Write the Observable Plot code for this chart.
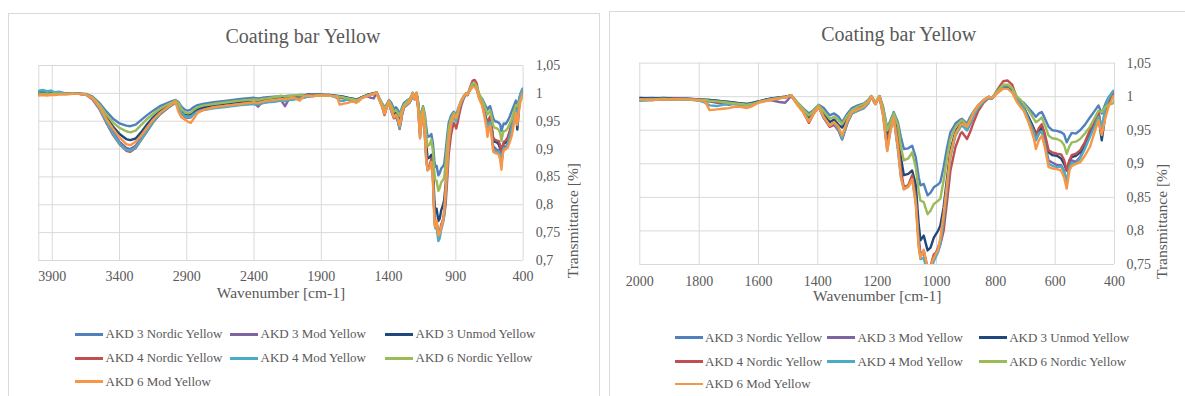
<!DOCTYPE html>
<html><head><meta charset="utf-8">
<script src="https://cdn.jsdelivr.net/npm/d3@7"></script>
<script src="https://cdn.jsdelivr.net/npm/@observablehq/plot@0.6"></script>
<style>
body{margin:0;background:#fff;}
#page{position:relative;width:1185px;height:396px;overflow:hidden;background:#fff;font-family:"Liberation Serif",serif;color:#595959;}
.panel{position:absolute;border:1px solid #d9d9d9;box-sizing:border-box;}
.title{position:absolute;font-size:20px;line-height:20px;text-align:center;white-space:nowrap;width:300px;}
.chart{position:absolute;top:0;}
.leg{position:absolute;display:flex;align-items:center;font-size:13px;line-height:16px;height:16px;white-space:nowrap;}
.sw{width:28px;height:2.5px;margin-right:2.5px;}
</style></head><body><div id="page"></div>
<script>
const chartTitle = "Coating bar Yellow";
const xLabel = "Wavenumber [cm-1]";
const yLabel = "Transmittance [%]";
const seriesNames = ["AKD 3 Nordic Yellow","AKD 3 Mod Yellow","AKD 3 Unmod Yellow","AKD 4 Nordic Yellow","AKD 4 Mod Yellow","AKD 6 Nordic Yellow","AKD 6 Mod Yellow"];
const seriesColors = ["#4F81BD","#8064A2","#1F497D","#C0504D","#4BACC6","#9BBB59","#F79646"];
const xTicksWide = [3900,3400,2900,2400,1900,1400,900,400];
const yTicksWide = [0.7,0.75,0.8,0.85,0.9,0.95,1,1.05];
const xTicksZoom = [2000,1800,1600,1400,1200,1000,800,600,400];
const yTicksZoom = [0.75,0.8,0.85,0.9,0.95,1,1.05];

const wavenumber = [4000,3970,3940,3910,3880,3850,3800,3750,3700,3650,
 3600,3550,3500,3450,3400,3350,3320,3280,3240,3200,
 3150,3100,3050,3000,2985,2960,2940,2910,2890,2870,
 2850,2820,2780,2700,2600,2500,2400,2370,2340,2300,
 2250,2200,2170,2140,2100,2060,2030,2000,1960,1920,
 1880,1840,1800,1780,1765,1740,1720,1700,1680,1660,
 1640,1620,1600,1560,1530,1510,1490,1470,1450,1430,
 1415,1397,1380,1360,1345,1330,1318,1300,1285,1265,
 1245,1230,1220,1206,1192,1180,1166,1155,1144,1130,
 1120,1110,1095,1082,1070,1060,1054,1043,1030,1020,
 1009,995,987,976,964,953,936,919,914,897,
 886,875,860,841,824,813,795,775,760,745,
 729,716,706,690,672,665,655,645,635,622,
 610,594,580,570,561,552,544,530,516,500,
 483,465,454,443,430,420,405,400];

const akd3Nordic = [1.003,1.004,1.002,1.003,1.001,1.001,1.000,1.000,1.000,0.999,
 0.994,0.983,0.968,0.955,0.946,0.942,0.941,0.944,0.952,0.960,
 0.969,0.977,0.982,0.987,0.988,0.984,0.976,0.970,0.969,0.971,
 0.975,0.979,0.981,0.984,0.987,0.990,0.992,0.991,0.992,0.993,
 0.994,0.995,0.995,0.996,0.996,0.997,0.997,0.997,0.998,0.997,
 0.997,0.997,0.996,0.996,0.995,0.994,0.993,0.992,0.991,0.990,
 0.989,0.991,0.993,0.997,0.999,1.000,1.002,0.992,0.983,0.975,
 0.980,0.988,0.983,0.972,0.975,0.970,0.962,0.975,0.983,0.987,
 0.990,0.995,1.001,0.991,1.001,0.985,0.953,0.965,0.977,0.962,
 0.940,0.922,0.923,0.927,0.910,0.880,0.868,0.870,0.853,0.857,
 0.865,0.869,0.873,0.895,0.925,0.947,0.960,0.966,0.967,0.960,
 0.970,0.978,0.987,0.995,1.000,0.998,1.006,1.013,1.013,1.008,
 0.997,0.993,0.991,0.983,0.974,0.970,0.975,0.977,0.968,0.955,
 0.950,0.949,0.947,0.944,0.932,0.940,0.946,0.945,0.950,0.958,
 0.969,0.980,0.987,0.975,0.990,0.999,1.008,1.009];

const akd3Mod = [0.999,0.998,0.999,0.998,0.999,0.999,0.999,0.999,0.999,0.998,
 0.990,0.974,0.952,0.932,0.913,0.902,0.900,0.906,0.920,0.934,
 0.951,0.964,0.973,0.982,0.984,0.976,0.966,0.958,0.957,0.958,
 0.963,0.968,0.971,0.975,0.978,0.981,0.983,0.976,0.984,0.986,
 0.987,0.988,0.977,0.990,0.991,0.992,0.993,0.995,0.995,0.996,
 0.996,0.996,0.995,0.994,0.993,0.991,0.990,0.988,0.990,0.989,
 0.988,0.990,0.993,0.995,0.992,0.991,1.001,0.990,0.979,0.963,
 0.975,0.985,0.970,0.956,0.960,0.952,0.938,0.963,0.976,0.980,
 0.984,0.991,1.000,0.990,1.000,0.975,0.925,0.952,0.969,0.925,
 0.885,0.864,0.868,0.880,0.850,0.790,0.765,0.770,0.740,0.745,
 0.760,0.775,0.785,0.820,0.870,0.915,0.945,0.958,0.960,0.950,
 0.960,0.972,0.983,0.993,0.999,0.997,1.007,1.015,1.015,1.010,
 0.995,0.989,0.983,0.968,0.948,0.935,0.945,0.950,0.930,0.905,
 0.902,0.898,0.898,0.890,0.870,0.895,0.905,0.903,0.910,0.925,
 0.945,0.962,0.975,0.950,0.980,0.997,1.005,1.006];

const akd3Unmod = [1.001,1.000,1.001,1.000,1.000,1.000,0.999,1.000,0.999,0.998,
 0.992,0.978,0.958,0.941,0.927,0.918,0.916,0.919,0.930,0.943,
 0.957,0.968,0.976,0.984,0.986,0.980,0.970,0.963,0.962,0.963,
 0.967,0.972,0.975,0.979,0.982,0.985,0.987,0.986,0.987,0.989,
 0.990,0.991,0.992,0.992,0.993,0.994,0.995,0.998,0.997,0.998,
 0.997,0.997,0.996,0.995,0.995,0.994,0.993,0.992,0.991,0.990,
 0.989,0.990,0.993,0.997,0.999,1.000,1.002,0.991,0.980,0.968,
 0.977,0.986,0.975,0.962,0.966,0.958,0.954,0.968,0.979,0.983,
 0.986,0.992,1.000,0.990,1.000,0.980,0.938,0.958,0.972,0.945,
 0.910,0.883,0.885,0.890,0.870,0.810,0.786,0.793,0.771,0.775,
 0.790,0.800,0.808,0.835,0.880,0.920,0.948,0.960,0.962,0.952,
 0.962,0.974,0.985,0.994,0.999,0.998,1.007,1.014,1.015,1.010,
 0.995,0.988,0.984,0.970,0.953,0.945,0.950,0.954,0.940,0.917,
 0.913,0.912,0.908,0.900,0.890,0.905,0.910,0.912,0.917,0.930,
 0.945,0.960,0.970,0.935,0.975,0.990,1.000,1.002];

const akd4Nordic = [0.998,0.999,0.998,0.999,0.998,0.999,0.999,0.999,0.999,0.998,
 0.989,0.972,0.948,0.926,0.909,0.897,0.895,0.902,0.916,0.930,
 0.948,0.962,0.972,0.981,0.983,0.975,0.964,0.957,0.956,0.957,
 0.962,0.967,0.970,0.974,0.977,0.980,0.982,0.979,0.983,0.985,
 0.986,0.988,0.989,0.990,0.991,0.992,0.993,0.996,0.996,0.996,
 0.997,0.996,0.995,0.994,0.993,0.992,0.991,0.990,0.989,0.988,
 0.987,0.989,0.992,0.996,0.998,0.999,1.002,0.990,0.978,0.961,
 0.974,0.985,0.968,0.955,0.958,0.949,0.936,0.961,0.975,0.979,
 0.983,0.990,1.000,0.989,1.000,0.976,0.932,0.955,0.973,0.935,
 0.890,0.865,0.868,0.883,0.850,0.785,0.762,0.770,0.745,0.748,
 0.765,0.770,0.780,0.800,0.845,0.890,0.925,0.945,0.947,0.937,
 0.948,0.962,0.978,0.991,0.998,0.997,1.010,1.023,1.024,1.018,
 0.998,0.990,0.984,0.966,0.950,0.942,0.953,0.959,0.945,0.920,
 0.917,0.915,0.914,0.906,0.890,0.905,0.913,0.915,0.920,0.932,
 0.950,0.966,0.978,0.950,0.980,0.995,1.003,1.004];

const akd4Mod = [1.005,1.006,1.004,1.005,1.002,1.003,1.000,0.999,0.999,0.998,
 0.990,0.973,0.950,0.928,0.910,0.898,0.897,0.903,0.917,0.931,
 0.949,0.963,0.973,0.981,0.983,0.976,0.965,0.958,0.957,0.958,
 0.962,0.967,0.970,0.973,0.976,0.979,0.981,0.980,0.982,0.984,
 0.985,0.987,0.986,0.988,0.989,0.991,0.992,0.994,0.995,0.996,
 0.996,0.996,0.994,0.991,0.987,0.986,0.988,0.989,0.989,0.988,
 0.987,0.989,0.992,0.996,0.998,0.999,1.002,0.990,0.979,0.964,
 0.975,0.985,0.969,0.957,0.961,0.951,0.937,0.962,0.975,0.979,
 0.983,0.990,1.000,0.989,1.000,0.972,0.920,0.950,0.968,0.920,
 0.880,0.862,0.866,0.877,0.845,0.780,0.758,0.760,0.735,0.740,
 0.755,0.768,0.780,0.815,0.865,0.910,0.942,0.955,0.957,0.950,
 0.960,0.972,0.983,0.993,0.998,0.997,1.008,1.016,1.017,1.012,
 0.996,0.988,0.983,0.966,0.946,0.935,0.945,0.948,0.930,0.900,
 0.897,0.895,0.896,0.888,0.875,0.895,0.902,0.900,0.908,0.922,
 0.940,0.958,0.970,0.955,0.985,0.998,1.008,1.009];

const akd6Nordic = [1.000,0.999,1.000,0.999,1.000,0.999,0.999,1.000,0.999,0.998,
 0.993,0.980,0.963,0.948,0.938,0.932,0.930,0.933,0.943,0.953,
 0.963,0.972,0.979,0.985,0.987,0.982,0.972,0.965,0.964,0.966,
 0.970,0.975,0.978,0.981,0.984,0.987,0.989,0.988,0.990,0.991,
 0.993,0.996,0.994,0.995,0.996,0.997,0.996,0.996,0.996,0.997,
 0.996,0.996,0.995,0.995,0.994,0.993,0.992,0.991,0.990,0.989,
 0.988,0.989,0.992,0.996,0.998,0.999,1.002,0.992,0.982,0.972,
 0.979,0.987,0.978,0.967,0.970,0.965,0.959,0.972,0.980,0.985,
 0.989,0.994,1.001,0.991,1.001,0.983,0.950,0.962,0.975,0.958,
 0.925,0.905,0.908,0.917,0.895,0.860,0.845,0.843,0.825,0.830,
 0.840,0.845,0.848,0.875,0.910,0.937,0.955,0.963,0.965,0.957,
 0.966,0.977,0.986,0.995,1.000,0.998,1.008,1.018,1.018,1.013,
 1.000,0.995,0.989,0.980,0.967,0.962,0.965,0.969,0.958,0.942,
 0.938,0.937,0.934,0.928,0.915,0.926,0.932,0.933,0.937,0.945,
 0.955,0.970,0.979,0.977,0.985,0.988,0.990,0.995];

const akd6Mod = [0.996,0.997,0.996,0.997,0.997,0.998,0.998,0.999,0.999,0.998,
 0.991,0.976,0.955,0.937,0.921,0.909,0.907,0.913,0.924,0.937,
 0.953,0.965,0.974,0.983,0.985,0.966,0.957,0.952,0.949,0.947,
 0.954,0.965,0.970,0.975,0.978,0.981,0.984,0.983,0.985,0.987,
 0.988,0.990,0.989,0.991,0.992,0.987,0.995,0.996,0.995,0.996,
 0.996,0.996,0.995,0.993,0.980,0.981,0.982,0.983,0.985,0.985,
 0.983,0.986,0.991,0.995,0.997,0.999,1.002,0.988,0.977,0.963,
 0.974,0.985,0.970,0.957,0.962,0.955,0.942,0.965,0.977,0.981,
 0.985,0.992,1.000,0.989,1.000,0.972,0.919,0.950,0.968,0.925,
 0.880,0.862,0.866,0.877,0.840,0.775,0.760,0.772,0.745,0.748,
 0.760,0.772,0.790,0.825,0.872,0.915,0.945,0.958,0.960,0.955,
 0.965,0.976,0.987,0.995,1.000,0.998,1.005,1.012,1.012,1.006,
 0.992,0.984,0.979,0.962,0.938,0.922,0.935,0.942,0.925,0.895,
 0.893,0.892,0.890,0.880,0.863,0.890,0.897,0.900,0.902,0.912,
 0.925,0.950,0.965,0.943,0.970,0.985,1.000,1.002];

const seriesValues = [akd3Nordic, akd3Mod, akd3Unmod, akd4Nordic, akd4Mod, akd6Nordic, akd6Mod];
seriesValues.forEach((arr, i) => { if (arr.length !== wavenumber.length) throw new Error(seriesNames[i] + " length " + arr.length + " vs " + wavenumber.length); });

const rows = [];
seriesValues.forEach((arr, i) => arr.forEach((v, j) => rows.push({s: seriesNames[i], w: wavenumber[j], v})));

const fmt = d => String(d).replace(".", ",");
const grid = "#d9d9d9";
const txt = "#595959";

function makeChart({width, height, mL, mR, mT, mB, xDomain, yDomain, xTicks, yTicks, xPad, yPad, xLabDy, yLabDx, leftFrame}) {
  return Plot.plot({
    width, height, marginLeft: mL, marginRight: mR, marginTop: mT, marginBottom: mB,
    style: {fontFamily: "'Liberation Serif', serif", fontSize: "14px", color: txt, background: "transparent", overflow: "visible"},
    x: {domain: xDomain},
    y: {domain: yDomain},
    color: {domain: seriesNames, range: seriesColors},
    marks: [
      Plot.gridX(xTicks, {stroke: grid, strokeOpacity: 1}),
      Plot.gridY(yTicks, {stroke: grid, strokeOpacity: 1}),
      leftFrame ? Plot.frame({anchor: "left", stroke: grid}) : null,
      Plot.line(rows, {x: "w", y: "v", stroke: "s", strokeWidth: 2.4, clip: true}),
      Plot.axisX(xTicks, {tickSize: 0, tickPadding: xPad, label: null, tickFormat: d => String(d), fill: txt}),
      Plot.axisY(yTicks, {anchor: "right", tickSize: 0, tickPadding: yPad, label: null, tickFormat: fmt, fill: txt}),
      Plot.text([xLabel], {text: d => d, frameAnchor: "bottom", dy: xLabDy, fontSize: 15.5, fill: txt}),
      Plot.text([yLabel], {text: d => d, frameAnchor: "right", dx: yLabDx, rotate: -90, fontSize: 15.5, fill: txt})
    ]
  });
}

const page = document.getElementById("page");
function addPanel(left, top, width) {
  const p = document.createElement("div");
  p.className = "panel";
  Object.assign(p.style, {left: left + "px", top: top + "px", width: width + "px", height: "420px"});
  page.appendChild(p);
}
function addTitle(cx, top) {
  const t = document.createElement("div");
  t.className = "title";
  t.textContent = chartTitle;
  Object.assign(t.style, {left: (cx - 150) + "px", top: top + "px"});
  page.appendChild(t);
}
function addChart(svg, left) {
  svg.classList.add("chart");
  svg.style.position = "absolute";
  svg.style.left = left + "px";
  svg.style.top = "0px";
  page.appendChild(svg);
}
function addLegend(cols, rowsY) {
  seriesNames.forEach((name, i) => {
    const d = document.createElement("div");
    d.className = "leg";
    Object.assign(d.style, {left: cols[i % 3] + "px", top: (rowsY[Math.floor(i / 3)] - 8) + "px"});
    const sw = document.createElement("div");
    sw.className = "sw";
    sw.style.background = seriesColors[i];
    const tx = document.createElement("span");
    tx.textContent = name;
    d.appendChild(sw); d.appendChild(tx);
    page.appendChild(d);
  });
}

addPanel(7.5, 12.5, 592);
addPanel(609, 10.5, 600);

addChart(makeChart({width: 600, height: 310, mL: 38.3, mR: 77.4, mT: 65, mB: 50,
  xDomain: [4000, 400], yDomain: [0.7, 1.05], xTicks: xTicksWide, yTicks: yTicksWide,
  xPad: 10.5, yPad: 12.7, xLabDy: 37, yLabDx: 50, leftFrame: true}), 0);
addChart(makeChart({width: 585, height: 310, mL: 39.3, mR: 71, mT: 62.6, mB: 46,
  xDomain: [2000, 400], yDomain: [0.75, 1.05], xTicks: xTicksZoom, yTicks: yTicksZoom,
  xPad: 11.4, yPad: 12, xLabDy: 36, yLabDx: 48, leftFrame: false}), 600);

addTitle(303, 25.75);
addTitle(898.7, 24);

addLegend([75, 230, 385], [334.3, 358.3, 381.7]);
addLegend([674.6, 826.9, 978.7], [337.7, 361.7, 384]);
</script></body></html>
